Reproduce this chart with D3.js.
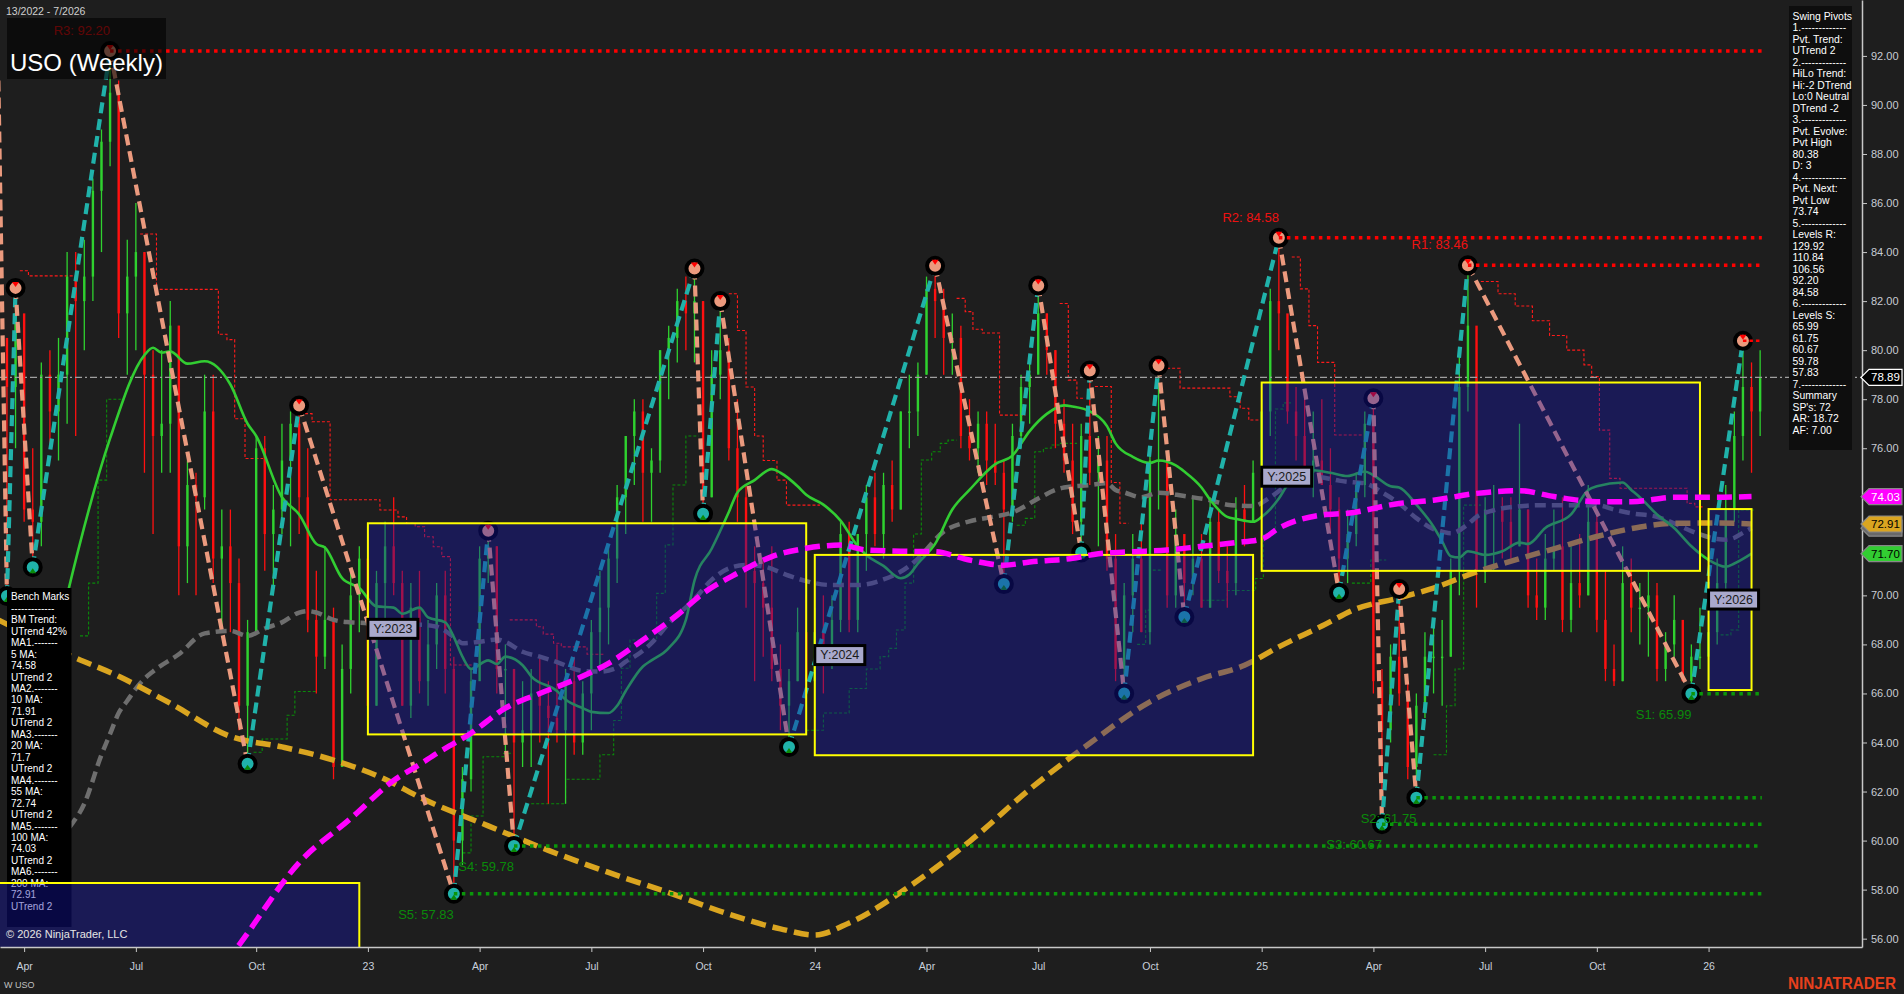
<!DOCTYPE html>
<html><head><meta charset="utf-8">
<script src="https://cdn.jsdelivr.net/npm/d3@7"></script>
<style>
html,body{margin:0;padding:0;background:#1e1e1e;overflow:hidden}
svg{display:block}
text{font-family:Arial,"Liberation Sans",sans-serif}
</style></head><body>
<svg id="c" width="1904" height="994"></svg>
<script>
// ================= DATA =================
const firstBarDate = "2022-03-11";   // weekly bars (Fridays), index k = 0..205
const firstOpen = 77.0;
const highs = [91,80,82.54,81,76,79.5,80,80.5,84,84, 84.5,87,89,92.2,91,84.5,86,84,80,80, 82,81,75.5,75,79,79,73.5,73.5,71.5,69,
 76.5,76.5,74.5,77,77.5,77.74,76,71,72,69.5, 68,71,72,72.5,71,73,74,71,70.5,71, 69,70.5,71,67.5,63,67,72,72.64,72,68,
 67,66.5,67,67.5,66.5,68,67,67.5,66.5,69, 71,72,74.5,76.5,78,78,76,80,81,82.5, 83,83.33,82,80,82,80.5,78,74.5,72,71.5,
 72,68,67,69.5,70,69.5,70,70,73,73, 72.5,74.5,75,75,75.5,77.5,79,79.5,83,83.44, 82.5,81.5,81,78,77.5,77.5,77,75.5,77,79,
 79.5,82.64,81.5,80,78,77,77,79.17,76.5,76.5, 72.5,70.5,72.5,73,76,79.37,75.5,73.5,72,74, 72.5,74,73.5,72,74,74.5,75.5,78,82.5,84.58,
 81,78.5,78,77.5,78,76,74,73.5,75,77.5, 78.04,67,68,70.26,66.5,66,68.5,69,69,71.5, 80,83.46,79,74,74.5,74,74,77,73.5,71.5,
 72.5,73.5,74,72,72.5,74.5,73.5,71,68,72, 71.5,70.5,71,70.5,68.5,70,69,68,69.5,69, 71.5,74.5,77.5,80.38,79.5,80];
const lows = [75,69.97,76,73,71.15,72,76,75.5,77,76.5, 80,82,84,87.5,80.5,79,80,75,72.5,75, 75,70,70.5,70,73.5,70.5,68.5,68.5,64.5,63.13,
 68.5,71,70,72.5,72,72.5,68.5,66,67,62.5, 63,66,68.5,65,65.5,69,70,65.5,65,66, 65.5,67,66,57.83,59,62,68,70.5,66,63.5,
 59.78,63,63,64,61.5,64,61.5,63.5,63.5,64.5, 67,68,70.5,72.5,74.5,73,73,75,78,79.5, 80,79.5,73.33,74,78,75.5,73,69.5,66.5,67.5,
 66.5,64.5,63.82,66.5,66,65,66,67,68.5,68.5, 68.5,71,72,71.5,73,73.5,76,76.5,79,80.5, 79,79,76,75.5,75,74.5,74.5,70.46,73,76,
 77,79.5,79,76,75,72.5,71.75,74.5,72,71, 66.5,66,68.5,68.5,68,73.5,69.5,69.5,69.12,70, 69.5,69.5,70.5,69.5,70,72,73,74.5,76.5,80,
 77,75.5,74.5,74,74.5,72.5,70.11,70.5,72,74, 66,60.67,64,65.5,62.5,61.75,65,66,65.5,67.5, 70,77.5,69.5,70.5,71,71.5,71.5,72,69.5,69,
 69,71,68.5,68.5,69.5,70,68.5,66.5,66.3,66.5, 68.5,68,67.5,66.5,66.5,67.5,66.5,65.99,67,66.5, 68,70,73,75.5,75,76.5];
const closes = [80.5,78.5,81.5,73.5,73,79,77.5,79,83,82, 83,86.5,88.5,90.5,81.5,83,84,79,76.5,77, 81,72,74.5,74,77.5,71.5,72,70.5,65.5,68.5,
 76,72.5,73.5,75.5,77,74,69,67.5,69,63, 67,70,71.5,65.5,70.5,72,70.5,65.5,69.5,66.5, 68,70,67,60,62.5,66.5,71.5,72,67,67,
 64,64.5,66,65.5,65,64.5,66.5,64,66,68.5, 69.5,71.5,74,76.5,77.5,75,75.5,80,80.5,82, 81.5,82,74,79,80,76,74,71,70.5,69.5,
 67,65.5,66.5,68.5,66.5,68.5,67.5,69,72.5,69, 72.5,74,72.5,74.5,73.5,77.5,77.5,79,82.5,82, 80.5,80.5,76.5,76,77,75.5,75,73.5,76.5,78.5,
 79,81.5,80,77,75.5,73,76.5,75,75.5,71.5, 67,70,71.5,68.5,75.5,75.5,70,72.5,70.5,71.5, 69.5,73,71,70.5,73.5,73,75,77.5,82,81.5,
 77.5,76.5,75,75.5,74.5,73.5,71.5,72.5,74.5,77, 66.5,64.5,67.5,66,63,65.5,67.5,67.5,67.5,71, 78.5,81,71,73.5,73.5,73,72,73.5,70,69.5,
 71.5,72,69,70.5,70,73,69,67,66.5,70.5, 69.5,69.5,70,67,68,69,66.5,67.5,67.5,68.5, 70.5,73.5,76.5,78.5,77.5,78.89];

// swing pivots (bar index, value, H/L)
const pivotIdx = [0,1,2,4,13,29,35,53,57,60,81,82,84,92,109,117,121,126,127,131,135,138,149,156,160,161,163,165,171,197,203];
const pivotVal = [91.0,69.97,82.54,71.15,92.20,63.13,77.74,57.83,72.64,59.78,83.33,73.33,82.00,63.82,83.44,70.46,82.64,71.75,79.17,66.00,79.37,69.12,84.58,70.11,78.04,60.67,70.26,61.75,83.46,65.99,80.38];
const pivotType = "HLHLHLHLHLHLHLHLHLHLHLHLHLHLHLH";

// support / resistance levels
const levelNames = ["R3","R2","R1","S1","S2","S3","S4","S5"];
const levelVals  = [92.20,84.58,83.46,65.99,61.75,60.67,59.78,57.83];
const levelIdx   = [13,149,171,197,165,161,60,53];
const levelEndIdx = 205.2;
const evolvingHigh = 80.38, evolvingIdx = 203;

// moving averages [bar index, value]
const ma20 = [[5,66.0],[7,68.5],[8,70.0],[13,76.4],[17,79.8],[18,80.1],[19,79.9],[20,79.95],[22,79.45],[24,79.55],[27,78.6],[29,77.0],[30,76.5],[33,74.0],[35,73.3],[37,72.1],[38,71.95],[40,70.7],[42,70.3],[44,69.55],[46,69.5],[47,69.25],[49,69.5],[50,69.1],[52,68.9],[53,68.3],[54,67.5],[55,67.0],[57,67.35],[58,67.2],[59,67.5],[61,67.15],[62,66.7],[65,66.1],[66,65.75],[68,65.4],[69,65.25],[71,65.2],[72,65.5],[73,66.1],[75,67.1],[76,67.35],[78,67.85],[80,69.0],[81,70.6],[83,71.9],[85,73.4],[86,74.2],[88,74.7],[90,75.15],[91,75.0],[93,74.45],[94,74.1],[96,73.7],[98,73.05],[100,72.0],[101,71.65],[103,71.2],[105,70.7],[106,70.85],[107,71.3],[109,72.1],[111,73.5],[113,74.3],[116,75.35],[118,75.7],[120,76.7],[122,77.4],[124,77.75],[125,77.7],[127,77.5],[129,76.9],[130,76.2],[132,75.65],[134,75.4],[135,75.5],[137,75.3],[138,75.05],[140,74.4],[141,73.9],[143,73.2],[144,73.12],[146,73.0],[147,73.2],[149,73.95],[150,74.5],[151,74.85],[153,75.1],[155,75.0],[157,74.87],[159,75.05],[160,74.9],[162,74.45],[163,74.4],[165,73.7],[167,72.8],[168,72.2],[169,71.6],[170,71.55],[171,71.8],[173,71.65],[175,71.8],[177,72.15],[178,72.1],[180,72.75],[183,73.3],[185,74.3],[186,74.45],[189,74.6],[190,74.3],[191,74.0],[193,73.3],[195,72.75],[197,72.0],[199,71.45],[201,71.17],[202,71.3],[204,71.7]];
const ma55 = [[5,58.8],[8,60.4],[10,61.5],[12,63.5],[13,64.35],[14,65.2],[15,65.7],[16,66.2],[17,66.6],[18,66.9],[21,67.6],[24,68.45],[27,68.55],[29,68.35],[31,68.65],[33,68.9],[35,69.3],[36,69.36],[37,69.3],[39,69.0],[41,68.9],[43,68.86],[44,68.75],[47,68.72],[49,68.8],[51,68.72],[52,68.55],[53,68.3],[54,68.05],[56,68.11],[58,68.2],[59,68.1],[61,67.7],[63,67.5],[65,67.28],[68,66.92],[70,66.89],[72,67.05],[73,67.3],[74,67.5],[76,68.05],[78,68.85],[81,69.85],[83,70.63],[85,71.1],[87,71.24],[89,71.18],[92,70.8],[94,70.58],[97,70.42],[100,70.42],[103,70.65],[106,71.2],[107,71.5],[110,72.6],[113,73.02],[116,73.22],[118,73.38],[121,73.95],[123,74.3],[124,74.4],[127,74.5],[129,74.57],[130,74.3],[131,74.2],[133,74.0],[135,74.19],[138,74.05],[141,73.88],[143,73.7],[146,73.64],[148,74.0],[150,74.5],[151,74.65],[153,74.84],[155,74.75],[156,74.68],[158,74.6],[159,74.57],[161,74.2],[163,73.75],[165,73.15],[167,72.7],[168,72.6],[169,72.53],[171,72.9],[172,73.2],[174,73.47],[177,73.63],[179,73.68],[183,73.68],[186,73.68],[188,73.5],[190,73.35],[193,73.2],[195,72.94],[197,72.62],[200,72.3],[201,72.27],[202,72.35],[203,72.55],[204,72.74]];
const ma100 = [[20,52.2],[24,53.9],[28,55.74],[35,59.1],[41,60.9],[46,62.45],[49,63.1],[51,63.55],[55,64.38],[59,65.4],[63,66.0],[67,66.55],[71,67.23],[75,68.18],[79,69.2],[82,70.08],[86,70.9],[90,71.58],[94,71.92],[98,72.05],[101,71.85],[105,71.8],[109,71.78],[113,71.44],[117,71.23],[120,71.36],[125,71.51],[128,71.7],[132,71.78],[136,71.85],[140,72.0],[144,72.15],[147,72.3],[149,72.74],[154,73.28],[157,73.35],[163,73.75],[167,73.88],[172,74.16],[177,74.27],[181,74.03],[186,73.82],[190,73.82],[195,74.0],[200,74.0],[204,74.03]];
const ma200 = [[0,69.0],[4,68.3],[8,67.6],[14,66.7],[20,65.6],[27,64.25],[33,63.82],[39,63.28],[45,62.5],[49,61.77],[57,60.6],[64,59.6],[71,58.7],[78,57.88],[85,57.0],[91,56.4],[95,56.15],[99,56.64],[106,58.13],[113,59.96],[120,62.09],[127,63.97],[134,65.66],[140,66.6],[145,67.15],[149,67.9],[154,68.75],[158,69.45],[163,69.9],[167,70.3],[172,70.96],[177,71.5],[181,71.9],[186,72.4],[190,72.72],[195,72.94],[200,72.95],[204,72.91]];

// trailing step lines [bar index, value]
const redSteps = [
 [[2.5,83.24],[3.5,83.03],[9,83.03]],
 [[16.5,84.74],[18.4,82.48],[25.6,80.65],[26.6,80.43],[27.5,77.2],[28.7,75.58],[30.8,75.58]],
 [[35.1,77.41],[36.5,77.08],[38.6,73.9],[44.4,73.48],[46.5,73.2],[47.5,72.94],[48.5,72.8],[49.6,72.39],[50.6,71.98],[51.6,71.58],[52.6,67.16],[55.3,67.16]],
 [[59.5,69.0],[62.6,68.72],[63.4,68.42],[64.6,68.05],[65.5,67.9],[68.5,67.6],[70.5,67.6]],
 [[85,82.3],[86,80.8],[87,78.5],[88,76.5],[89,75.5],[90.6,74.7],[91.7,73.68],[95.6,73.68]],
 [[111.5,82.11],[112.5,81.57],[113.4,80.85],[114.5,80.7],[116.5,77.35],[119.5,77.35]],
 [[123.5,81.9],[124.5,78.78],[125.5,78.04],[126.4,78.04]],
 [[127.6,78.52],[129.5,74.6],[130.5,72.94],[131.5,72.94]],
 [[136,79.26],[137.5,78.45],[143.3,78.1],[144.5,77.63],[145.5,77.15],[146.8,77.15]],
 [[150.5,83.8],[151.5,82.5],[152.5,81.0],[153.5,79.5],[155.5,76.54],[158.7,76.54]],
 [[172.5,82.8],[174.5,82.3],[176.5,81.8],[178.5,81.2],[180.5,80.6],[182.5,80.0],[184.5,79.4],[185.4,78.92],[186.3,76.74],[187.5,74.77],[188.7,74.37],[196.5,73.75],[197.4,73.61],[198.3,73.61]]
];
const greenSteps = [
 [[9.5,68.35],[10.5,70.5],[11.6,74.7],[12.6,78.0],[14.5,78.0]],
 [[29.7,63.6],[30.7,64.14],[33.6,65.11],[34.5,66.08],[37,66.08]],
 [[54,59.5],[55,61.0],[56.4,63.42],[58.8,63.56],[59.9,63.56]],
 [[62,61.5],[66,62.5],[70,63.5],[71.6,64.9],[72.5,67.03],[73.5,68.18],[76.6,70.08],[77.6,72.06],[78.5,74.5],[80,76.5],[81.5,76.5]],
 [[94,64.5],[96,65.2],[99,66.2],[101,67.0],[102.6,67.5],[103.6,67.84],[104.5,68.59],[105.5,70.5],[106.5,72.5],[107.4,75.52],[108.6,75.86],[109.6,76.2],[110.5,76.33],[111.5,76.33]],
 [[118.5,72.86],[119.5,73.14],[120.6,75.86],[121.6,76.0],[122.5,76.13],[123.5,76.2],[125.5,76.2]],
 [[132.5,68.0],[133.5,69.4],[134,71.03],[135.5,71.03]],
 [[140,69.8],[143,70.2],[146.3,70.69],[147.2,72.5],[148.6,77.6],[149.5,77.85],[150.4,77.85]],
 [[157.5,70.5],[159.7,71.44],[161.5,71.44]],
 [[167,63.5],[168.5,65.5],[169.5,67.0],[170.5,73.68],[172.5,73.68]],
 [[200.4,68.39],[201.6,68.59],[202.5,73.48],[204.5,73.48]]
];

// yearly boxes
const boxYears  = [2022,2023,2024,2025,2026];
const boxStart  = [-10,43,95,147,199];
const boxEnd    = [42,94,146,198,204];
const boxTop    = [58.27,72.94,71.65,78.68,73.52];
const boxBottom = [50.0,64.33,63.48,71.00,66.14];
const boxLabeled = [false,true,true,true,true];

const lastPrice = 78.89;
// axis ticks (72 and 74 sit under the price markers)
const yTicks = [56,58,60,62,64,66,68,70,76,78,80,82,84,86,88,90,92];
const xTickDates = ["2022-04-01","2022-07-01","2022-10-07","2023-01-06","2023-04-07","2023-07-07","2023-10-06","2024-01-05","2024-04-05","2024-07-05","2024-10-04","2025-01-03","2025-04-04","2025-07-04","2025-10-03","2026-01-02"];
const xTickLabels = ["Apr","Jul","Oct","23","Apr","Jul","Oct","24","Apr","Jul","Oct","25","Apr","Jul","Oct","26"];

// price markers on right axis (first one hidden behind the 200 MA marker)
const markerVals   = [72.74,72.91,71.70,74.03,78.89];
const markerFill   = ["#696969","#daa520","#32cd32","#ff00ff","#000000"];
const markerText   = [null,"#000000","#000000","#ffffff","#ffffff"];
const markerStroke = ["#888","#888","#888","#888","#ffffff"];

const infoLines = ["Swing Pivots","1.-------------","Pvt. Trend:","UTrend 2","2.-------------","HiLo Trend:","Hi:-2 DTrend","Lo:0 Neutral","DTrend -2","3.-------------","Pvt. Evolve:","Pvt High","80.38","D: 3","4.-------------","Pvt. Next:","Pvt Low","73.74","5.-------------","Levels R:","129.92","110.84","106.56","92.20","84.58","6.-------------","Levels S:","65.99","61.75","60.67","59.78","57.83","7.-------------","Summary","SP's: 72","AR: 18.72","AF: 7.00"];
const benchLines = ["Bench Marks","-------------","BM Trend:","UTrend 42%","MA1.-------","5 MA:","74.58","UTrend 2","MA2.-------","10 MA:","71.91","UTrend 2","MA3.-------","20 MA:","71.7","UTrend 2","MA4.-------","55 MA:","72.74","UTrend 2","MA5.-------","100 MA:","74.03","UTrend 2","MA6.-------","200 MA:","72.91","UTrend 2"];

// ================= LAYOUT =================
const W = 1904, H = 994, plotR = 1862, plotB = 947;
const weekMs = 7*864e5;
const t0 = Date.parse(firstBarDate + "T00:00:00Z");
const anchor = Date.parse("2023-01-06T00:00:00Z");
const pxPerDay = 8.594/7, anchorX = 367.9;
const x = d3.scaleUtc()
  .domain([new Date(anchor - anchorX/pxPerDay*864e5), new Date(anchor + (plotR-anchorX)/pxPerDay*864e5)])
  .range([0, plotR]);
const y = d3.scaleLinear().domain([55.66, 94.28]).range([plotB, 0]);
const xk = k => x(new Date(t0 + k*weekMs));

const svg = d3.select("#c");
svg.append("rect").attr("width",W).attr("height",H).attr("fill","#1e1e1e");
svg.append("defs").append("clipPath").attr("id","plot")
  .append("rect").attr("x",0).attr("y",0).attr("width",plotR).attr("height",plotB);
const g = svg.append("g").attr("clip-path","url(#plot)");

// step lines
const stepLine = d3.line().x(d=>xk(d[0])).y(d=>y(d[1])).curve(d3.curveStepAfter);
g.append("g").selectAll("path").data(redSteps).join("path")
  .attr("d", stepLine).attr("fill","none").attr("stroke","#ff1a1a").attr("stroke-width",1.1).attr("stroke-dasharray","3 2");
g.append("g").selectAll("path").data(greenSteps).join("path")
  .attr("d", stepLine).attr("fill","none").attr("stroke","#0a8a0a").attr("stroke-width",1.1).attr("stroke-dasharray","3 2");

// bars
const bars = highs.map((h,k)=>({k, h, l:lows[k], c:closes[k], o: k===0 ? firstOpen : closes[k-1]}));
const barG = g.append("g");
bars.forEach(b=>{
  const col = b.c >= b.o ? "#2fd22f" : "#ff1010";
  const cx = xk(b.k);
  barG.append("line").attr("x1",cx).attr("x2",cx).attr("y1",y(b.h)).attr("y2",y(b.l))
    .attr("stroke",col).attr("stroke-width",1.3);
  const top = y(Math.max(b.o,b.c)), bot = y(Math.min(b.o,b.c));
  barG.append("rect").attr("x",cx-1.2).attr("width",2.4).attr("y",top).attr("height",Math.max(1.5,bot-top)).attr("fill",col);
});

// last price dash-dot line
g.append("line").attr("x1",0).attr("x2",plotR).attr("y1",y(lastPrice)).attr("y2",y(lastPrice))
  .attr("stroke","#a0a0a0").attr("stroke-width",1.3).attr("stroke-dasharray","7 3 2 3");

// moving averages
const maLine = d3.line().x(d=>xk(d[0])).y(d=>y(d[1])).curve(d3.curveMonotoneX);
g.append("path").attr("d",maLine(ma55)).attr("fill","none").attr("stroke","#6e6e6e").attr("stroke-width",4.5).attr("stroke-dasharray","11 6");
g.append("path").attr("d",maLine(ma200)).attr("fill","none").attr("stroke","#daa520").attr("stroke-width",5.5).attr("stroke-dasharray","15 7");
g.append("path").attr("d",maLine(ma20)).attr("fill","none").attr("stroke","#32cd32").attr("stroke-width",2.6);

// zigzag
const pivots = pivotIdx.map((k,i)=>({k, v:pivotVal[i], t:pivotType[i]}));
const zz = g.append("g");
for (let i=1;i<pivots.length;i++){
  const a = pivots[i-1], b = pivots[i];
  zz.append("line").attr("x1",xk(a.k)).attr("y1",y(a.v)).attr("x2",xk(b.k)).attr("y2",y(b.v))
    .attr("stroke", b.t==="L" ? "#eb9a7e" : "#20b2aa").attr("stroke-width",4.2).attr("stroke-dasharray","11 6");
}
// pivot circles
const pg = g.append("g");
pivots.slice(1).forEach(p=>{
  const cx = xk(p.k), cy = y(p.v);
  pg.append("circle").attr("cx",cx).attr("cy",cy).attr("r",8).attr("fill", p.t==="H" ? "#eb9a7e" : "#20b2aa")
    .attr("stroke","#000").attr("stroke-width",4);
  if (p.t==="H") pg.append("path").attr("d",`M${cx-3.5},${cy-6}L${cx+3.5},${cy-6}L${cx},${cy-1}Z`).attr("fill","#ff0000");
  else pg.append("path").attr("d",`M${cx-3.5},${cy+6}L${cx+3.5},${cy+6}L${cx},${cy+1}Z`).attr("fill","#0a8a0a");
});

// bench marks panel
const bp = g.append("g");
bp.append("rect").attr("x",7).attr("y",588).attr("width",64.5).attr("height",339).attr("fill","#000");
bp.selectAll("text").data(benchLines).join("text")
  .attr("x",11).attr("y",(d,i)=>600.3+i*11.46).attr("fill","#ffffff").attr("font-size",10).text(d=>d);

// year boxes (semi-transparent overlay)
const yb = g.append("g");
boxYears.forEach((yr,i)=>{
  const x0 = xk(boxStart[i]), x1 = xk(boxEnd[i]);
  yb.append("rect").attr("x",x0).attr("y",y(boxTop[i])).attr("width",x1-x0).attr("height",y(boxBottom[i])-y(boxTop[i]))
    .attr("fill","rgba(20,20,167,0.4)").attr("stroke","#ffff00").attr("stroke-width",2);
});

// magenta 100 MA on top
g.append("path").attr("d",maLine(ma100)).attr("fill","none").attr("stroke","#ff00ff").attr("stroke-width",5.5).attr("stroke-dasharray","15 7");

// level lines + labels
const lv = g.append("g");
levelNames.forEach((nm,i)=>{
  const isR = nm[0]==="R";
  const col = isR ? "#ff0000" : "#0a960a";
  const x0 = xk(levelIdx[i]), yy = y(levelVals[i]);
  lv.append("line").attr("x1",x0).attr("x2",xk(levelEndIdx)).attr("y1",yy).attr("y2",yy)
    .attr("stroke",col).attr("stroke-width",3.5).attr("stroke-dasharray","3.5 4.5");
  lv.append("text").attr("x",x0).attr("y", isR ? yy-16 : yy+25).attr("text-anchor","end")
    .attr("fill", isR ? "#ee1111" : "#0a8a0a").attr("font-size",13).text(`${nm}: ${levelVals[i].toFixed(2)}`);
});
lv.append("line").attr("x1",xk(evolvingIdx)).attr("x2",xk(levelEndIdx)).attr("y1",y(evolvingHigh)).attr("y2",y(evolvingHigh))
  .attr("stroke","#ff0000").attr("stroke-width",2.5).attr("stroke-dasharray","3.5 3");

// year labels
boxYears.forEach((yr,i)=>{
  if(!boxLabeled[i]) return;
  const x0 = xk(boxStart[i]), ym = y((boxTop[i]+boxBottom[i])/2);
  g.append("rect").attr("x",x0).attr("y",ym-9.5).attr("width",50).attr("height",19)
    .attr("fill","#a9a9cc").attr("stroke","#000").attr("stroke-width",3);
  g.append("text").attr("x",x0+25).attr("y",ym+4.3).attr("text-anchor","middle")
    .attr("font-family","'Liberation Mono','Courier New',monospace").attr("font-size",12.5).attr("fill","#1a1a1a").text("Y:"+yr);
});

// ===== axes =====
const xa = svg.append("g").attr("transform",`translate(0,${plotB})`)
  .call(d3.axisBottom(x).tickValues(xTickDates.map(s=>new Date(s+"T00:00:00Z"))).tickFormat((d,i)=>xTickLabels[i]).tickSize(5).tickSizeOuter(0));
xa.select(".domain").attr("stroke","#c8c8c8").attr("stroke-width",1.5);
xa.selectAll(".tick line").attr("stroke","#c8c8c8");
xa.selectAll(".tick text").attr("fill","#c8d0dc").attr("font-size",10.5).attr("font-family","Arial,'Liberation Sans',sans-serif").attr("dy","1.45em");

const ya = svg.append("g").attr("transform",`translate(${plotR},0)`)
  .call(d3.axisRight(y).tickValues(yTicks).tickFormat(d3.format(".2f")).tickSize(5).tickSizeOuter(0));
ya.select(".domain").attr("stroke","#c8c8c8").attr("stroke-width",1.5);
ya.selectAll(".tick line").attr("stroke","#c8c8c8");
ya.selectAll(".tick text").attr("fill","#c8ccd4").attr("font-size",11).attr("font-family","Arial,'Liberation Sans',sans-serif").attr("x",9);

// price markers
markerVals.forEach((v,i)=>{
  const yy = y(v);
  svg.append("path").attr("d",`M${plotR-1},${yy}L${plotR+7},${yy-8}L1902,${yy-8}L1902,${yy+8}L${plotR+7},${yy+8}Z`)
    .attr("fill",markerFill[i]).attr("stroke",markerStroke[i]).attr("stroke-width",1.2);
  if (markerText[i]) svg.append("text").attr("x",1871).attr("y",yy+4).attr("fill",markerText[i]).attr("font-size",11.5).text(v.toFixed(2));
});

// ===== annotations =====
svg.append("text").attr("x",6).attr("y",15).attr("fill","#d0d0d0").attr("font-size",10.5).text("13/2022 - 7/2026");
svg.append("rect").attr("x",7).attr("y",18).attr("width",159).attr("height",61).attr("fill","rgba(0,0,0,0.6)");
svg.append("text").attr("x",10).attr("y",71).attr("fill","#ffffff").attr("font-size",24).text("USO (Weekly)");

svg.append("text").attr("x",6).attr("y",938).attr("fill","#e6e6e6").attr("font-size",11).text("\u00a9 2026 NinjaTrader, LLC");
svg.append("text").attr("x",4).attr("y",988).attr("fill","#c0c0c0").attr("font-size",9).text("W USO");
svg.append("text").attr("x",1788).attr("y",989).attr("fill","#e8401c").attr("font-size",16).attr("font-weight","bold")
  .attr("textLength",108).attr("lengthAdjust","spacingAndGlyphs").text("NINJATRADER");

// info panel
svg.append("rect").attr("x",1789).attr("y",6).attr("width",63).attr("height",444).attr("fill","#0e0e0e");
svg.append("g").selectAll("text").data(infoLines).join("text")
  .attr("x",1792.5).attr("y",(d,i)=>19.6+i*11.5).attr("fill","#ffffff").attr("font-size",10.4).text(d=>d);
</script>
</body></html>
